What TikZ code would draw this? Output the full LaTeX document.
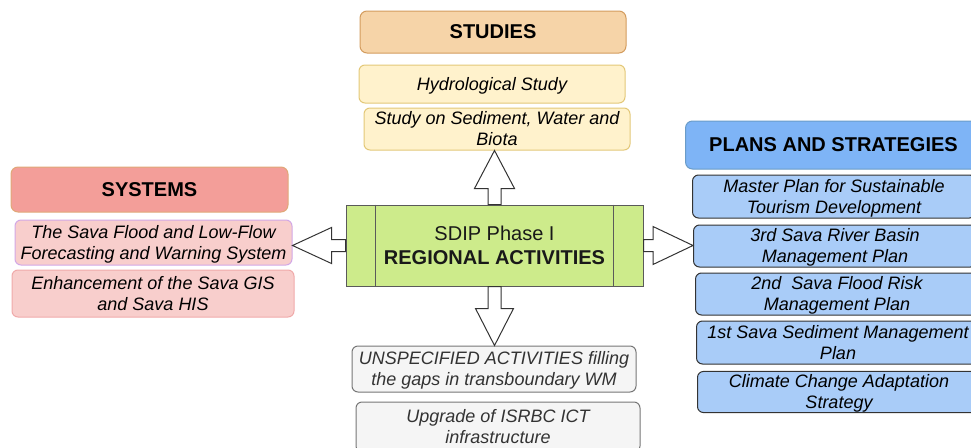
\documentclass[tikz,border=0pt]{standalone}
\usepackage{fontspec}
\setmainfont{Liberation Sans}
\usetikzlibrary{calc}
\newcommand{\mylinestrut}{\rule[-0.212em]{0pt}{1.117em}}
\definecolor{studfill}{HTML}{F6D4A8}
\definecolor{studdraw}{HTML}{D39C5E}
\definecolor{ylwfill}{HTML}{FFF2CC}
\definecolor{ylwdraw}{HTML}{E3C878}
\definecolor{sysfill}{HTML}{F39E99}
\definecolor{sysdraw}{HTML}{E0A878}
\definecolor{pinkfill}{HTML}{F8CECC}
\definecolor{lilacdraw}{HTML}{D2A8E6}
\definecolor{pinkdraw}{HTML}{F0AAAA}
\definecolor{corefill}{HTML}{CDEB8B}
\definecolor{coredraw}{HTML}{5A5A5A}
\definecolor{planfill}{HTML}{7EB4F6}
\definecolor{plandraw}{HTML}{6A9CC8}
\definecolor{itemfill}{HTML}{A9CCF8}
\definecolor{itemdraw}{HTML}{333333}
\definecolor{grayfill}{HTML}{F5F5F5}
\definecolor{graydraw}{HTML}{777777}
\definecolor{graytext}{HTML}{333333}
\begin{document}
\begin{tikzpicture}[x=1pt,y=-1pt,
  every node/.style={execute at begin node={\mylinestrut}, execute at end node={\mylinestrut}},
  box/.style={rounded corners=6pt, line width=1pt, inner sep=0pt, align=center,
    font=\fontsize{18pt}{21pt}\selectfont\itshape},
  titlebox/.style={rounded corners=7pt, line width=1pt, inner sep=0pt, align=center,
    font=\fontsize{20pt}{24pt}\selectfont\bfseries},
  studstyle/.style={titlebox, fill=studfill, draw=studdraw},
  ylwstyle/.style={box, fill=ylwfill, draw=ylwdraw},
  sysstyle/.style={titlebox, fill=sysfill, draw=sysdraw},
  planstyle/.style={titlebox, fill=planfill, draw=plandraw},
  itemstyle/.style={box, fill=itemfill, draw=itemdraw, anchor=west, minimum width=283pt},
  graystyle/.style={box, fill=grayfill, draw=graydraw, text=graytext},
  corestyle/.style={fill=corefill, draw=coredraw, line width=1pt, inner sep=0pt, align=center,
    font=\fontsize{20pt}{24pt}\selectfont, text=black!90},
  barrow/.style={draw=black!80, fill=white, line width=1pt, line join=miter}
]
\useasboundingbox (0,0) rectangle (971,447);
\clip (0,0) rectangle (971,447);

% studies
\node[studstyle, minimum width=266pt, minimum height=42pt] (studies) at (493,32) {STUDIES};
\node[ylwstyle, minimum width=266pt, minimum height=38pt] (hydro) at (492,84) {Hydrological Study};
\node[ylwstyle, minimum width=266pt, minimum height=42pt] (biota) at (497,129) {\mylinestrut Study on Sediment, Water and\\Biota\mylinestrut};

% systems
\node[sysstyle, minimum width=277pt, minimum height=45pt] (systems) at (149.5,189.5) {SYSTEMS};
\node[box, fill=pinkfill, draw=lilacdraw, minimum width=277pt, minimum height=45pt] (flood) at (153.5,242.5) {\mylinestrut The Sava Flood and Low-Flow\\Forecasting and Warning System\mylinestrut};
\node[box, fill=pinkfill, draw=pinkdraw, minimum width=282pt, minimum height=47pt] (enh) at (153,293.5) {\mylinestrut Enhancement of the Sava GIS\\and Sava HIS\mylinestrut};

% plans
\node[planstyle, anchor=west, minimum width=296pt, minimum height=48pt] (plans) at (685,145) {PLANS AND STRATEGIES};
\node[itemstyle, minimum height=43pt] (master) at (692,196.5) {\mylinestrut Master Plan for Sustainable\\Tourism Development\mylinestrut};
\node[itemstyle, minimum height=42pt] (rbmp) at (693,246) {\mylinestrut 3rd Sava River Basin\\Management Plan\mylinestrut};
\node[itemstyle, minimum height=42pt] (frmp) at (695,294) {\mylinestrut 2nd\ \ Sava Flood Risk\\Management Plan\mylinestrut};
\node[itemstyle, minimum height=43pt] (smp) at (696,342.5) {\mylinestrut 1st Sava Sediment Management\\Plan\mylinestrut};
\node[itemstyle, minimum height=40pt] (ccas) at (697,392) {\mylinestrut Climate Change Adaptation\\Strategy\mylinestrut};

% unspecified
\node[graystyle, minimum width=284pt, minimum height=46pt] (unspec) at (494,369) {\mylinestrut UNSPECIFIED ACTIVITIES filling\\the gaps in transboundary WM\mylinestrut};
\node[graystyle, minimum width=284pt, minimum height=50pt] (ict) at (498,427) {\mylinestrut Upgrade of ISRBC ICT\\infrastructure\mylinestrut};

% central
\node[corestyle, minimum width=297pt, minimum height=81pt] (core) at (494.5,245.5) {\mylinestrut SDIP Phase I\\\textbf{REGIONAL ACTIVITIES}\mylinestrut};
\draw[draw=coredraw, line width=1pt] ($(core.north west)+(30,0)$) -- ($(core.south west)+(30,0)$);
\draw[draw=coredraw, line width=1pt] ($(core.north east)+(-30,0)$) -- ($(core.south east)+(-30,0)$);

% up arrow
\coordinate (ub) at (core.north);
\coordinate (ut) at (core.north |- biota.south);
\draw[barrow] ($(ub)+(-6.5,0)$) -- ($(ut)+(-6.5,38)$) -- ($(ut)+(-20,38)$) -- (ut)
  -- ($(ut)+(20,38)$) -- ($(ut)+(6.5,38)$) -- ($(ub)+(6.5,0)$) -- cycle;

% down arrow
\coordinate (db) at (core.south);
\coordinate (dt) at (core.south |- unspec.north);
\draw[barrow] ($(db)+(-6.5,0)$) -- ($(dt)+(-6.5,-37)$) -- ($(dt)+(-19,-37)$) -- (dt)
  -- ($(dt)+(19,-37)$) -- ($(dt)+(6.5,-37)$) -- ($(db)+(6.5,0)$) -- cycle;

% left arrow
\coordinate (lb) at (core.west);
\coordinate (lt) at (flood.east |- core.west);
\draw[barrow] ($(lb)+(0,-6)$) -- ($(lt)+(39,-6)$) -- ($(lt)+(39,-18)$) -- (lt)
  -- ($(lt)+(39,18)$) -- ($(lt)+(39,6)$) -- ($(lb)+(0,6)$) -- cycle;

% right arrow
\coordinate (rb) at (core.east);
\coordinate (rt) at (rbmp.west |- core.east);
\draw[barrow] ($(rb)+(0,-6)$) -- ($(rt)+(-40,-6)$) -- ($(rt)+(-40,-19)$) -- (rt)
  -- ($(rt)+(-40,19)$) -- ($(rt)+(-40,6)$) -- ($(rb)+(0,6)$) -- cycle;
\end{tikzpicture}
\end{document}
